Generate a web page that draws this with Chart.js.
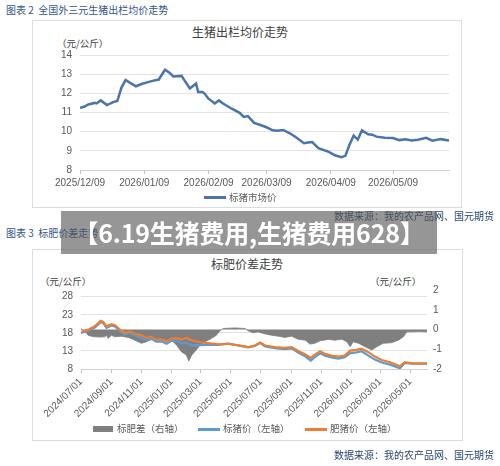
<!DOCTYPE html>
<html>
<head>
<meta charset="utf-8">
<script src="https://cdn.jsdelivr.net/npm/chart.js@4.4.1/dist/chart.umd.min.js"></script>
<style>
  body { margin: 0; width: 500px; height: 466px; position: relative; background: #fff; overflow: hidden;
         font-family: "Noto Sans CJK SC", sans-serif; }
  .abs { position: absolute; white-space: nowrap; line-height: 1; }
  .cap { font-size: 10px; color: #34558b; }
  .src { font-size: 10px; color: #2b4372; }
  .title { font-size: 12px; color: #404040; transform: translateX(-50%); }
  .unit { font-size: 9.5px; color: #404040; }
  .leg { font-size: 9.5px; color: #595959; }
  .box { position: absolute; border: 1px solid #dcdcdc; box-sizing: border-box; }
  canvas { position: absolute; }
  #banner { position: absolute; left: 61px; top: 211px; width: 376px; height: 43px; background: rgba(85,85,85,0.62);
            color: #fff; font-weight: bold; font-size: 25px; line-height: 43px; text-align: center; white-space: nowrap;
            letter-spacing: -0.2px; }
</style>
</head>
<body>

<div class="abs cap" style="left:6px;top:5px">图表 2&nbsp;&nbsp;全国外三元生猪出栏均价走势</div>
<div class="box" style="left:32px;top:20px;width:430px;height:188px"></div>
<div class="abs title" style="left:240px;top:26px">生猪出栏均价走势</div>
<div class="abs unit" style="left:57px;top:39px">（元/公斤）</div>
<canvas id="pigChart" width="429" height="187" style="left:32px;top:20px"></canvas>
<div class="abs" style="left:204px;top:196px;width:22px;height:2.5px;background:#4a74ab"></div>
<div class="abs leg" style="left:229px;top:193px">标猪市场价</div>
<div class="abs src" style="left:334px;top:211px">数据来源：我的农产品网、国元期货</div>

<div class="abs cap" style="left:6px;top:228px">图表 3&nbsp;&nbsp;标肥价差走势</div>
<div class="box" style="left:32px;top:249px;width:431px;height:192px"></div>
<div class="abs title" style="left:247px;top:258px">标肥价差走势</div>
<div class="abs unit" style="left:40px;top:277px">（元/公斤）</div>
<div class="abs unit" style="left:370px;top:277px">（元/公斤）</div>
<canvas id="spreadChart" width="430" height="191" style="left:32px;top:249px"></canvas>
<div class="abs" style="left:93px;top:426px;width:20px;height:6px;background:#7f7f7f"></div>
<div class="abs leg" style="left:117px;top:424px">标肥差（右轴）</div>
<div class="abs" style="left:198px;top:428px;width:22px;height:2.5px;background:#5b9bd5"></div>
<div class="abs leg" style="left:223px;top:424px">标猪价（左轴）</div>
<div class="abs" style="left:305px;top:428px;width:22px;height:2.5px;background:#ed7d31"></div>
<div class="abs leg" style="left:330px;top:424px">肥猪价（左轴）</div>
<div class="abs src" style="left:334px;top:450px">数据来源：我的农产品网、国元期货</div>

<div id="banner">【6.19生猪费用,生猪费用628】</div>

<script>
// ---- 图表2: 生猪出栏均价 ----
const pigDates = ['2025/12/09','2025/12/11','2025/12/13','2025/12/16','2025/12/17','2025/12/19','2025/12/22','2025/12/25',
  '2025/12/27','2025/12/29','2025/12/31','2026/01/02','2026/01/05','2026/01/08','2026/01/10','2026/01/13','2026/01/16',
  '2026/01/19','2026/01/21','2026/01/23','2026/01/27','2026/01/28','2026/01/31','2026/02/03','2026/02/04','2026/02/06',
  '2026/02/07','2026/02/09','2026/02/12','2026/02/14','2026/02/16','2026/02/20','2026/02/24','2026/02/26','2026/02/28',
  '2026/03/03','2026/03/06','2026/03/09','2026/03/12','2026/03/14','2026/03/17','2026/03/20','2026/03/23','2026/03/27',
  '2026/03/29','2026/03/31','2026/04/03','2026/04/08','2026/04/11','2026/04/14','2026/04/16','2026/04/18','2026/04/20',
  '2026/04/22','2026/04/24','2026/04/27','2026/04/29','2026/05/01','2026/05/05','2026/05/09','2026/05/12','2026/05/15',
  '2026/05/18','2026/05/21','2026/05/25','2026/05/28','2026/06/01','2026/06/05'];
const pigPrice = [11.25,11.30,11.42,11.50,11.47,11.63,11.39,11.54,
  11.60,12.30,12.70,12.56,12.37,12.50,12.56,12.65,12.72,
  13.23,13.09,12.88,12.91,12.74,12.25,12.51,12.07,12.07,
  12.00,11.72,11.47,11.63,11.47,11.21,10.98,10.77,10.81,
  10.46,10.35,10.23,10.07,10.05,10.09,9.93,9.72,9.40,
  9.44,9.46,9.14,8.95,8.77,8.67,8.74,9.32,9.79,
  9.58,10.07,9.86,9.84,9.74,9.68,9.67,9.56,9.60,
  9.54,9.58,9.68,9.53,9.61,9.54];
const pigTicks = ['2025/12/09','2026/01/09','2026/02/09','2026/03/09','2026/04/09','2026/05/09'];
const pigRange = ['2025/12/09','2026/06/05'];

// ---- 图表3: 标肥价差 ----
const priceDates = ['2024/07/01','2024/07/16','2024/07/29','2024/08/10','2024/08/15','2024/08/22','2024/09/01','2024/09/08',
  '2024/09/18','2024/09/28','2024/10/08','2024/10/18','2024/11/01','2024/11/11','2024/11/21','2024/12/01','2024/12/12',
  '2024/12/22','2025/01/01','2025/01/14','2025/01/21','2025/01/31','2025/02/11','2025/02/21','2025/03/03','2025/03/16',
  '2025/04/06','2025/04/26','2025/05/17','2025/06/06','2025/06/19','2025/06/30','2025/07/10','2025/07/30','2025/08/19',
  '2025/09/02','2025/09/16','2025/09/30','2025/10/11','2025/10/19','2025/10/30','2025/11/09','2025/11/22','2025/12/06',
  '2025/12/19','2025/12/30','2026/01/12','2026/01/22','2026/02/05','2026/02/18','2026/03/04','2026/03/21','2026/04/10',
  '2026/04/20','2026/05/04','2026/05/18','2026/06/04'];
const fatPrice = [18.23,18.88,19.80,21.30,21.00,19.80,20.40,20.10,
  18.90,17.95,18.40,17.80,17.30,16.65,16.85,16.10,16.20,
  15.60,16.40,16.55,16.10,16.65,15.90,15.60,15.35,15.15,
  14.80,14.98,14.50,14.05,14.50,15.35,14.50,14.05,13.86,
  14.05,12.93,12.00,11.07,12.00,12.93,12.19,11.72,11.44,
  11.72,13.10,13.30,13.60,12.65,11.44,10.50,9.86,8.74,
  9.86,9.58,9.58,9.58];
const stdPrice = [18.00,18.60,19.45,20.95,20.70,19.40,20.05,19.75,
  18.55,17.55,17.95,17.30,16.60,16.05,16.35,15.55,15.60,
  15.00,15.85,15.70,15.00,15.30,14.50,14.60,14.60,14.70,
  14.70,15.03,14.55,14.00,14.35,15.20,14.25,13.75,13.50,
  13.70,12.45,11.45,10.35,11.30,12.35,11.70,11.20,10.90,
  11.25,12.40,12.60,12.90,11.70,10.60,9.80,9.20,8.20,
  9.70,9.45,9.45,9.46];
const spreadDates = ['2024/07/01','2024/07/09','2024/07/16','2024/07/22','2024/07/29','2024/08/08','2024/08/18','2024/08/22',
  '2024/08/25','2024/09/01','2024/09/08','2024/09/21','2024/10/05','2024/10/15','2024/10/25','2024/11/01','2024/11/11',
  '2024/11/21','2024/12/05','2024/12/18','2025/01/01','2025/01/11','2025/01/21','2025/01/31','2025/02/05','2025/02/11',
  '2025/02/17','2025/02/28','2025/03/10','2025/03/23','2025/04/02','2025/04/09','2025/04/16','2025/05/10','2025/05/30',
  '2025/06/06','2025/06/16','2025/06/26','2025/07/06','2025/07/23','2025/08/06','2025/08/19','2025/09/02','2025/09/16',
  '2025/09/30','2025/10/09','2025/10/19','2025/10/30','2025/11/16','2025/11/29','2025/12/13','2025/12/23','2025/12/30',
  '2026/01/05','2026/01/16','2026/01/29','2026/02/12','2026/02/22','2026/03/07','2026/03/24','2026/04/07','2026/04/17',
  '2026/04/24','2026/05/04','2026/05/18','2026/06/04'];
const spreadValue = [0.05,-0.10,-0.30,-0.34,-0.37,-0.38,-0.37,-0.29,
  -0.45,-0.29,-0.37,-0.34,-0.40,-0.50,-0.62,-0.70,-0.62,
  -0.50,-0.54,-0.59,-0.54,-0.79,-1.13,-1.29,-1.60,-1.29,
  -1.13,-0.79,-0.62,-0.45,-0.29,-0.07,0.05,0.08,0.05,
  -0.07,-0.17,-0.12,-0.20,-0.29,-0.34,-0.40,-0.34,-0.50,
  -0.54,-0.74,-0.70,-0.57,-0.50,-0.54,-0.49,-0.62,-0.87,
  -0.62,-0.70,-0.87,-1.04,-0.87,-0.70,-0.67,-0.54,-0.37,
  -0.12,-0.12,-0.10,-0.12];
const spreadTicks = ['2024/07/01','2024/09/01','2024/11/01','2025/01/01','2025/03/01','2025/05/01',
  '2025/07/01','2025/09/01','2025/11/01','2026/01/01','2026/03/01','2026/05/01'];
const spreadRange = ['2024/07/01','2026/06/04'];
const leftTicks = [8, 13, 18, 23, 28];
const rightTicks = [-2, -1, 0, 1, 2];

// date string -> day number, so the linear x scale places every point
const day = s => {
    const p = s.split('/').map(Number);
    return Date.UTC(p[0], p[1] - 1, p[2]) / 864e5;
};
const toPoints = (dates, vals) => dates.map((d, i) => ({ x: day(d), y: vals[i] }));

const TICK_FONT = { family: '"Liberation Sans", Arial, sans-serif', size: 10 };
const TICK_COLOR = '#595959';
const GRID_COLOR = '#e3e3e3';

Chart.defaults.animation = false;
Chart.defaults.plugins.legend.display = false;
Chart.defaults.plugins.tooltip.enabled = false;

function dateAxis(range, tickList, extra) {
    return Object.assign({
        type: 'linear',
        min: day(range[0]),
        max: day(range[1]),
        afterBuildTicks: (scale) => {
            scale.ticks = tickList.map(t => ({ value: day(t) }));
        },
        ticks: {
            autoSkip: false,
            font: TICK_FONT,
            color: TICK_COLOR,
            callback: (v, i) => tickList[i]
        },
        grid: { drawOnChartArea: false, tickLength: 4, color: '#bfbfbf' },
        border: { color: '#d0d0d0' }
    }, extra);
}

new Chart('pigChart', {
    type: 'line',
    data: {
        datasets: [{
            label: '标猪市场价',
            data: toPoints(pigDates, pigPrice),
            borderColor: '#4a74ab',
            borderWidth: 2.5,
            pointRadius: 0,
            tension: 0
        }]
    },
    options: {
        responsive: false,
        devicePixelRatio: 1,
        layout: { padding: { left: 0, right: 12, top: 35, bottom: 17 } },
        scales: {
            x: dateAxis(pigRange, pigTicks, {
                afterFit: (s) => { s.height = 20; }
            }),
            y: {
                min: 8, max: 14,
                afterFit: (s) => { s.width = 48; },
                ticks: { stepSize: 1, font: TICK_FONT, color: TICK_COLOR, padding: 8 },
                grid: { color: GRID_COLOR, drawTicks: false },
                border: { display: false }
            }
        }
    }
});

new Chart('spreadChart', {
    type: 'line',
    data: {
        datasets: [{
            label: '肥猪价（左轴）',
            data: toPoints(priceDates, fatPrice),
            borderColor: '#ed7d31',
            borderWidth: 2.2,
            pointRadius: 0,
            yAxisID: 'y'
        }, {
            label: '标猪价（左轴）',
            data: toPoints(priceDates, stdPrice),
            borderColor: '#5b9bd5',
            borderWidth: 2.2,
            pointRadius: 0,
            yAxisID: 'y'
        }, {
            label: '标肥差（右轴）',
            data: toPoints(spreadDates, spreadValue),
            borderColor: '#7f7f7f',
            backgroundColor: '#7f7f7f',
            borderWidth: 0.8,
            pointRadius: 0,
            fill: 'origin',
            yAxisID: 'y1'
        }]
    },
    options: {
        responsive: false,
        devicePixelRatio: 1,
        layout: { padding: { left: 0, right: 5, top: 41, bottom: 16 } },
        scales: {
            x: dateAxis(spreadRange, spreadTicks, {
                afterFit: (s) => { s.height = 55; },
                ticks: {
                    autoSkip: false, font: TICK_FONT, color: TICK_COLOR,
                    maxRotation: 45, minRotation: 45,
                    callback: (v, i) => spreadTicks[i]
                }
            }),
            y: {
                position: 'left',
                min: 8, max: 29.85,
                afterBuildTicks: (s) => { s.ticks = leftTicks.map(v => ({ value: v })); },
                afterFit: (s) => { s.width = 49; },
                ticks: { font: TICK_FONT, color: TICK_COLOR, padding: 8 },
                grid: { color: GRID_COLOR, drawTicks: false },
                border: { display: false }
            },
            y1: {
                position: 'right',
                min: -2, max: 2,
                afterBuildTicks: (s) => { s.ticks = rightTicks.map(v => ({ value: v })); },
                afterFit: (s) => { s.width = 30; },
                ticks: { font: TICK_FONT, color: TICK_COLOR, padding: 6 },
                grid: { drawOnChartArea: false, drawTicks: false },
                border: { display: false }
            }
        }
    }
});
</script>
</body>
</html>
